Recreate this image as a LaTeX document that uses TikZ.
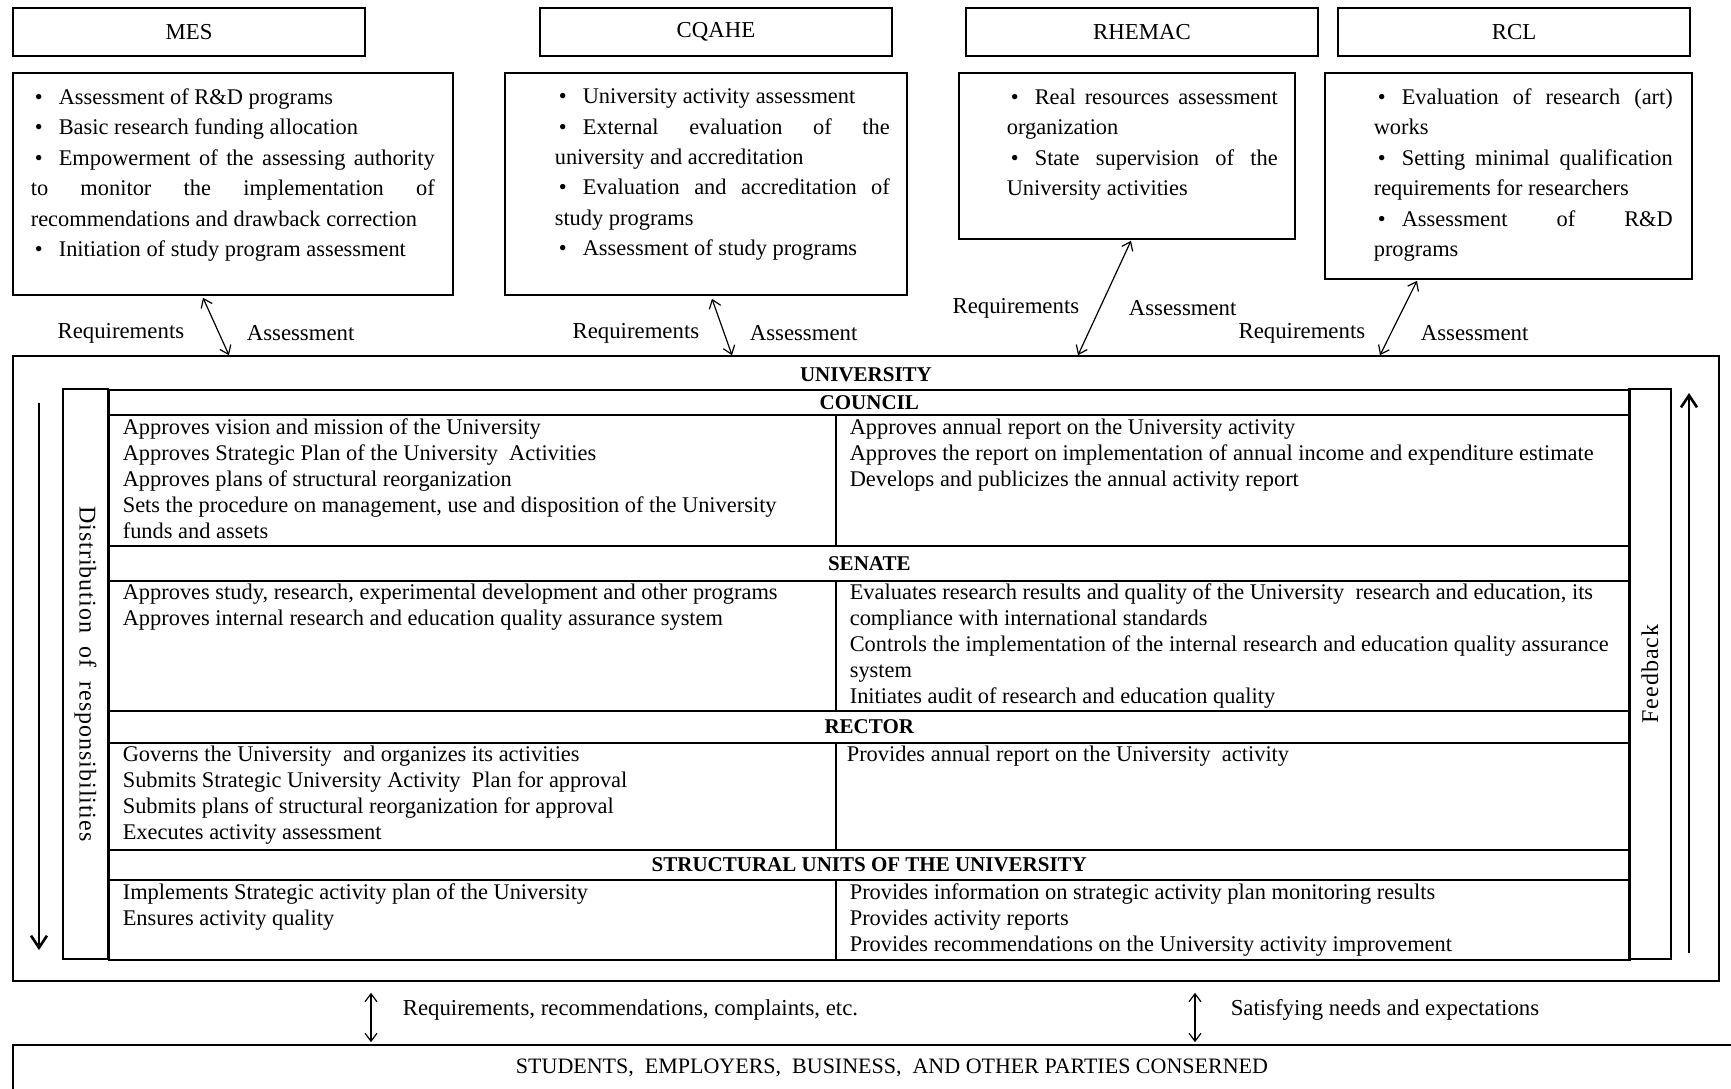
\documentclass[tikz,border=0pt]{standalone}
\usepackage{fontspec}
\setmainfont{Liberation Serif}
\usetikzlibrary{calc,arrows.meta}
\newcommand{\bul}{\makebox[14pt][l]{\hspace{2pt}\textbullet}}
\newcommand{\loosejust}{\tolerance=9999\relax\emergencystretch=10pt\relax\hyphenpenalty=10000\relax}

\begin{document}
\begin{tikzpicture}[x=0.5pt, y=-0.5pt, line width=0.8pt]
	% common styles
	\tikzset{
		agency/.style={draw, minimum width=176pt, minimum height=24pt, inner sep=0pt, font=\fontsize{11.4}{13}\selectfont},
		dutybox/.style={draw, inner sep=0pt},
		duties/.style={anchor=north west, inner sep=0pt, align=justify, font=\fontsize{11.2}{15.2}\selectfont\loosejust},
		flowlabel/.style={inner sep=0pt, font=\fontsize{11.4}{13}\selectfont},
		rowhead/.style={draw, anchor=north west, minimum width=760.5pt, inner sep=0pt, font=\bfseries\fontsize{10.5}{12}\selectfont},
		cell/.style={draw, anchor=north west, inner sep=0pt},
		celltext/.style={anchor=north west, inner sep=0pt, align=left, font=\fontsize{11.2}{13}\selectfont},
		sidecol/.style={draw, minimum width=285pt, inner sep=0pt, font=\fontsize{12}{14}\selectfont\addfontfeature{LetterSpace=4}},
		link/.style={{Straight Barb[length=4pt,width=6pt]}-{Straight Barb[length=4pt,width=6pt]}, line width=0.6pt}
	}
	\useasboundingbox (0,0) rectangle (1731,1088);
	\clip (0,0) rectangle (1731,1088);

	% external bodies
	\node[agency] (mes) at (189,32) {MES};
	\node[agency] (cqahe) at (716,32) {CQAHE};
	\node[agency] (rhemac) at (1142,32) {RHEMAC};
	\node[agency] (rcl) at (1514,32) {RCL};

	% their functions
	\node[dutybox, minimum width=220pt, minimum height=111pt] (mesd) at (233,184) {};
	\node[dutybox, minimum width=201pt, minimum height=111pt] (cqahed) at (706,184) {};
	\node[dutybox, minimum width=168pt, minimum height=83pt] (rhemacd) at (1127,156) {};
	\node[dutybox, minimum width=183.5pt, minimum height=103pt] (rcld) at (1508.5,176) {};

	\node[duties, text width=202pt] (mestext) at (30,88) {\bul Assessment of R\&D programs\par
		\bul Basic research funding allocation\par
		\bul Empowerment of the assessing authority \linebreak to monitor the implementation of \linebreak recommendations and drawback correction\par
		\bul Initiation of study program assessment};
	\node[duties, text width=167.5pt] (cqahetext) at (554,88) {\bul University activity assessment\par
		\bul External evaluation of the \linebreak university and accreditation\par
		\bul Evaluation and accreditation of \linebreak study programs\par
		\bul Assessment of study programs};
	\node[duties, text width=135.5pt] (rhemactext) at (1006,88) {\bul Real resources assessment \linebreak organization\par
		\bul State supervision of the \linebreak University activities};
	\node[duties, text width=149.5pt] (rcltext) at (1373,88) {\bul Evaluation of research (art) \linebreak works\par
		\bul Setting minimal qualification \linebreak requirements for researchers\par
		\bul Assessment of R\&D \linebreak programs};

	% university frame
	\node[draw, minimum width=853pt, minimum height=312.5pt, inner sep=0pt] (univ) at (866,668.5) {};
	\node[inner sep=0pt, font=\bfseries\fontsize{10.5}{12}\selectfont] (univtitle) at (866,375) {UNIVERSITY};

	% side columns
	\node[sidecol, rotate=-90, minimum height=22.5pt] (distcol) at (85.5,674) {Distribution\ \ of\ \ responsibilities};
	\node[sidecol, rotate=90, minimum height=21pt] (fbcol) at (1650,674) {Feedback};

	% council
	\node[rowhead, minimum height=12.5pt] (council) at (108,389) {COUNCIL};
	\node[cell, minimum width=363.5pt, minimum height=65.5pt] (councilL) at (108,414) {};
	\node[cell, minimum width=397pt, minimum height=65.5pt] (councilR) at (835,414) {};
	\node[celltext] (councilLtext) at ($(councilL.north west)+(14,4)$) {Approves vision and mission of the University\\
		Approves Strategic Plan of the University\ \ Activities\\
		Approves plans of structural reorganization\\
		Sets the procedure on management, use and disposition of the University\\
		funds and assets};
	\node[celltext] (councilRtext) at ($(councilR.north west)+(14,4)$) {Approves annual report on the University activity\\
		Approves the report on implementation of annual income and expenditure estimate\\
		Develops and publicizes the annual activity report};

	% senate
	\node[rowhead, minimum height=17.5pt] (senate) at (108,545) {SENATE};
	\node[cell, minimum width=363.5pt, minimum height=65pt] (senateL) at (108,580) {};
	\node[cell, minimum width=397pt, minimum height=65pt] (senateR) at (835,580) {};
	\node[celltext] (senateLtext) at ($(senateL.north west)+(14,3)$) {Approves study, research, experimental development and other programs\\
		Approves internal research and education quality assurance system};
	\node[celltext] (senateRtext) at ($(senateR.north west)+(14,3)$) {Evaluates research results and quality of the University\ \ research and education, its\\
		compliance with international standards\\
		Controls the implementation of the internal research and education quality assurance\\
		system\\
		Initiates audit of research and education quality};

	% rector
	\node[rowhead, minimum height=16pt] (rector) at (108,710) {RECTOR};
	\node[cell, minimum width=363.5pt, minimum height=53.5pt] (rectorL) at (108,742) {};
	\node[cell, minimum width=397pt, minimum height=53.5pt] (rectorR) at (835,742) {};
	\node[celltext] (rectorLtext) at ($(rectorL.north west)+(14,3)$) {Governs the University\ \ and organizes its activities\\
		Submits Strategic University Activity\ \ Plan for approval\\
		Submits plans of structural reorganization for approval\\
		Executes activity assessment};
	\node[celltext] (rectorRtext) at ($(rectorR.north west)+(11,3)$) {Provides annual report on the University\ \ activity};

	% structural units
	\node[rowhead, minimum height=15pt] (units) at (108,849) {STRUCTURAL UNITS OF THE UNIVERSITY};
	\node[cell, minimum width=363.5pt, minimum height=40pt] (unitsL) at (108,879) {};
	\node[cell, minimum width=397pt, minimum height=40pt] (unitsR) at (835,879) {};
	\node[celltext] (unitsLtext) at ($(unitsL.north west)+(14,4)$) {Implements Strategic activity plan of the University\\
		Ensures activity quality};
	\node[celltext] (unitsRtext) at ($(unitsR.north west)+(14,4)$) {Provides information on strategic activity plan monitoring results\\
		Provides activity reports\\
		Provides recommendations on the University activity improvement};

	% stakeholders
	\node[draw, minimum width=879pt, minimum height=23pt, inner sep=0pt, font=\fontsize{11}{13}\selectfont] (parties) at (892,1068) {STUDENTS,\ \ EMPLOYERS,\ \ BUSINESS,\ \ AND OTHER PARTIES CONSERNED};

	% requirements / assessment links
	\draw[link] ($(mesd.south)+(-30,2)$) -- ($(mesd.south |- univ.north)+(-4,0)$);
	\draw[link] ($(cqahed.south)+(6,3)$) -- ($(cqahed.south |- univ.north)+(26,0)$);
	\draw[link] ($(rhemacd.south)+(4,1)$) -- ($(rhemacd.south |- univ.north)+(-49,0)$);
	\draw[link] ($(rcld.south)+(-91.5,1)$) -- ($(rcld.south |- univ.north)+(-128.5,0)$);

	\node[flowlabel, anchor=east] (mesreq) at (185,333) {Requirements};
	\node[flowlabel, anchor=west] (mesass) at (246,333) {Assessment};
	\node[flowlabel, anchor=east] (cqahereq) at (700,333) {Requirements};
	\node[flowlabel, anchor=west] (cqaheass) at (749,333) {Assessment};
	\node[flowlabel, anchor=east] (rhemacreq) at (1080,308) {Requirements};
	\node[flowlabel, anchor=west] (rhemacass) at (1128,308) {Assessment};
	\node[flowlabel, anchor=east] (rclreq) at (1366,333) {Requirements};
	\node[flowlabel, anchor=west] (rclass) at (1420,333) {Assessment};

	% responsibilities and feedback
	\coordinate (distTop) at (39,403);
	\coordinate (distBot) at (39,950);
	\coordinate (fbBot) at (1689,953);
	\coordinate (fbTop) at (1689,393);
	\draw[-{Straight Barb[length=6pt,width=8pt]}, line width=1.3pt] (distTop) -- (distBot);
	\draw[-{Straight Barb[length=6pt,width=8pt]}, line width=1.3pt] (fbBot) -- (fbTop);

	% links with stakeholders
	\draw[link] ($(univ.south)+(-495,11)$) -- ($(univ.south |- parties.north)+(-495,-2)$);
	\draw[link] ($(univ.south)+(329,11)$) -- ($(univ.south |- parties.north)+(329,-2)$);
	\node[flowlabel, anchor=west] (needsin) at (402,1010) {Requirements, recommendations, complaints, etc.};
	\node[flowlabel, anchor=west] (needsout) at (1230,1010) {Satisfying needs and expectations};
\end{tikzpicture}
\end{document}
